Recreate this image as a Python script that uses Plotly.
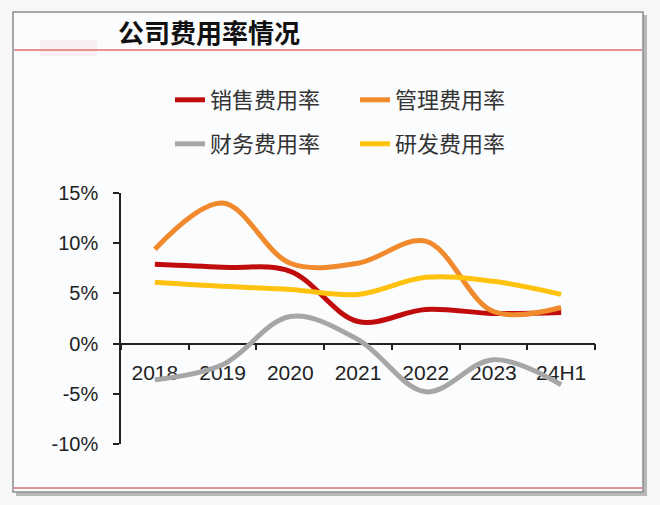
import plotly.graph_objects as go

categories = ["2018", "2019", "2020", "2021", "2022", "2023", "24H1"]
sales_rate = [7.9, 7.6, 7.2, 2.2, 3.4, 3.0, 3.1]
admin_rate = [9.4, 14.0, 8.0, 8.0, 10.2, 3.2, 3.6]
finance_rate = [-3.6, -2.1, 2.7, 0.4, -4.8, -1.6, -4.1]
rd_rate = [6.1, 5.7, 5.4, 4.9, 6.6, 6.2, 4.9]
y_tick_values = [-10, -5, 0, 5, 10, 15]
y_tick_labels = ["-10%", "-5%", "0%", "5%", "10%", "15%"]

series = [
    ("销售费用率", sales_rate, "#C00C0C", "legend"),
    ("管理费用率", admin_rate, "#F08A2C", "legend"),
    ("财务费用率", finance_rate, "#A6A6A6", "legend2"),
    ("研发费用率", rd_rate, "#FFC20E", "legend2"),
]

W, H = 660, 505
ML, MR, MT, MB = 121, 65, 193, 61
PW, PH = W - ML - MR, H - MT - MB

def px_x(p):
    return (p - ML) / PW

def px_y(p):
    return (H - MB - p) / PH

fig = go.Figure()
for name, vals, color, lg in series:
    fig.add_trace(go.Scatter(
        x=categories, y=vals, name=name, mode="lines",
        line=dict(color=color, width=5, shape="spline", smoothing=1.0),
        legend=lg,
    ))

ymin, ymax = -10, 15
zero_pos = (0 - ymin) / (ymax - ymin)

font_cjk = "Noto Sans CJK SC"
legend_common = dict(
    orientation="h", xanchor="left", yanchor="middle",
    entrywidth=140, entrywidthmode="pixels", bgcolor="rgba(0,0,0,0)",
    font=dict(family=font_cjk, size=22, color="#333333"),
)
fig.update_layout(
    width=W, height=H,
    margin=dict(l=ML, r=MR, t=MT, b=MB),
    paper_bgcolor="#f7f7f7",
    plot_bgcolor="rgba(0,0,0,0)",
    font=dict(family="Liberation Sans, Arial", color="#222222"),
    xaxis=dict(
        type="category", range=[-0.5, len(categories) - 0.5],
        anchor="free", position=zero_pos,
        showline=True, linecolor="#222222", linewidth=1.5,
        ticks="outside", tickson="boundaries", ticklen=6, tickcolor="#222222", tickwidth=1.5,
        showgrid=False, zeroline=False, layer="below traces",
        tickfont=dict(size=21, family="Liberation Sans, Arial", color="#222222"),
        ticklabelstandoff=10,
    ),
    yaxis=dict(
        range=[ymin, ymax], tickvals=y_tick_values, ticktext=y_tick_labels,
        showline=True, linecolor="#222222", linewidth=1.5,
        ticks="outside", ticklen=6, tickcolor="#222222", tickwidth=1.5,
        showgrid=False, zeroline=False,
        tickfont=dict(size=20, family="Liberation Sans, Arial", color="#222222"),
        ticklabelstandoff=11,
    ),
    legend=dict(x=px_x(170), y=px_y(100), **legend_common),
    legend2=dict(x=px_x(170), y=px_y(144), **legend_common),
    shapes=[
        dict(type="rect", xref="paper", yref="paper", x0=px_x(16), x1=px_x(647), y0=px_y(496), y1=px_y(15),
             fillcolor="#b8b8b8", line=dict(width=0), layer="below"),
        dict(type="rect", xref="paper", yref="paper", x0=px_x(13), x1=px_x(643), y0=px_y(492), y1=px_y(12),
             fillcolor="#fbfcfe", line=dict(color="#8c8c8c", width=1.5), layer="below"),
        dict(type="rect", xref="paper", yref="paper", x0=px_x(40), x1=px_x(97), y0=px_y(56), y1=px_y(40),
             fillcolor="rgba(248,215,215,0.35)", line=dict(width=0), layer="below"),
        dict(type="line", xref="paper", yref="paper", x0=px_x(14), x1=px_x(642), y0=px_y(50), y1=px_y(50),
             line=dict(color="#e07070", width=1.5)),
        dict(type="line", xref="paper", yref="paper", x0=px_x(14), x1=px_x(642), y0=px_y(488), y1=px_y(488),
             line=dict(color="#e07070", width=1.5)),
    ],
    annotations=[
        dict(text="公司费用率情况", xref="paper", yref="paper", x=px_x(116), y=px_y(32),
             xanchor="left", yanchor="middle", showarrow=False,
             font=dict(family=font_cjk, size=26, color="#111111", weight="bold")),
    ],
)

fig.write_html(
    "out.html",
    config={"displayModeBar": False},
    post_script="document.body.style.margin='0';document.body.style.padding='0';document.body.style.overflow='hidden';",
)
